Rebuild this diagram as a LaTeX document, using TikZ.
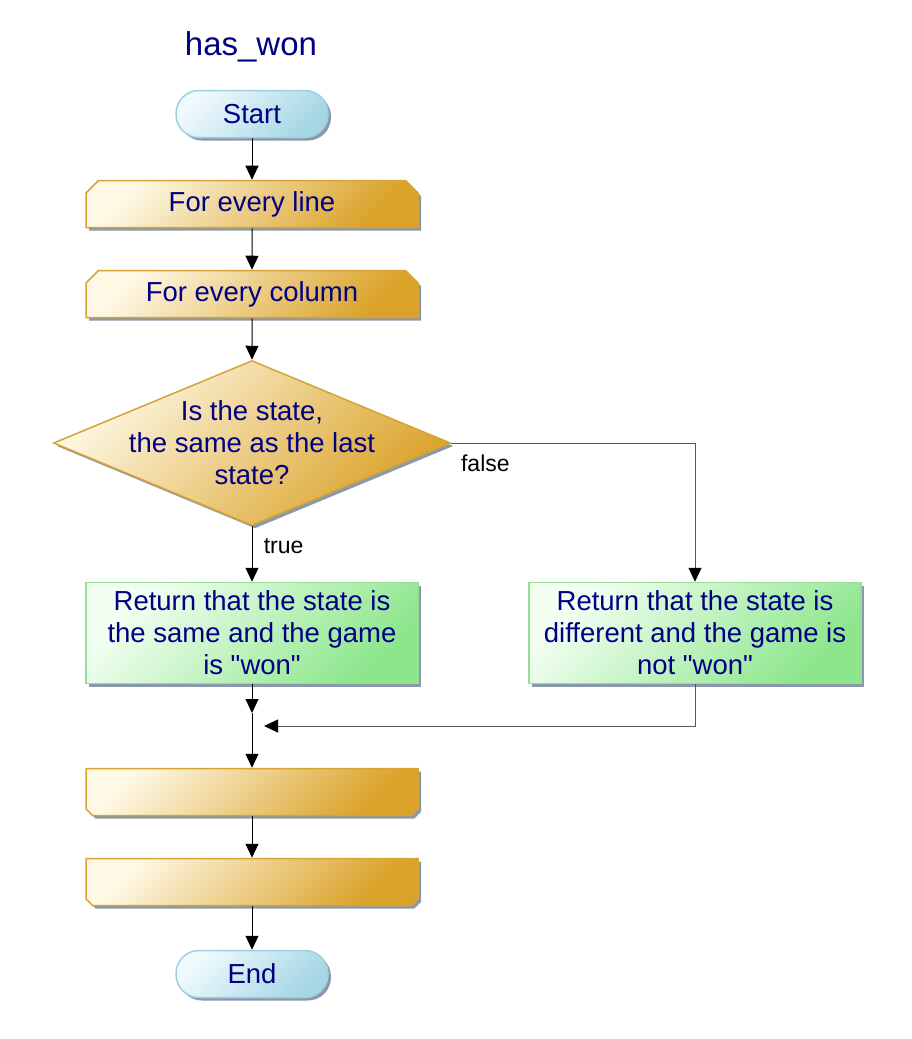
\documentclass[tikz,border=0pt]{standalone}
\usepackage{fontspec}
\setmainfont{Liberation Sans}[Ligatures=TeXOff]
\usetikzlibrary{shapes.geometric, shapes.misc, arrows.meta, shadows, positioning}

\definecolor{txtblue}{RGB}{0,0,128}
\definecolor{shadowgrey}{RGB}{138,152,172}
\definecolor{termlight}{RGB}{240,250,253}
\definecolor{termdark}{RGB}{164,214,228}
\definecolor{termedge}{RGB}{160,208,224}
\definecolor{looplight}{RGB}{254,248,228}
\definecolor{loopdark}{RGB}{218,162,40}
\definecolor{loopedge}{RGB}{214,164,52}
\definecolor{greenlight}{RGB}{244,255,244}
\definecolor{greendark}{RGB}{140,230,140}
\definecolor{greenedge}{RGB}{150,222,150}

\tikzset{
    boxtext/.style={text=txtblue, font=\fontsize{27.5}{32}\selectfont, align=center},
    flatshadow/.style={general shadow={fill=shadowgrey, shadow xshift=3pt, shadow yshift=-3pt}},
    terminal/.style={boxtext, flatshadow, rectangle, rounded corners=23pt,
        minimum width=152pt, minimum height=47pt, draw=termedge, line width=1.5pt,
        top color=termlight, bottom color=termdark, shading angle=45},
    loopstart/.style={boxtext, flatshadow, chamfered rectangle,
        chamfered rectangle corners={north west, north east}, chamfered rectangle xsep=9pt,
        minimum width=332pt, minimum height=47pt, draw=loopedge, line width=1.5pt,
        top color=looplight, bottom color=loopdark, shading angle=45},
    loopend/.style={loopstart, chamfered rectangle corners={south west, south east}},
    decision/.style={boxtext, flatshadow, diamond, aspect=2.4, inner xsep=-18pt, inner ysep=-7pt,
        minimum width=397pt, minimum height=165pt, draw=loopedge, line width=1.5pt,
        top color=looplight, bottom color=loopdark, shading angle=45},
    process/.style={boxtext, flatshadow, rectangle, minimum width=332pt, minimum height=101pt,
        draw=greenedge, line width=1.5pt, top color=greenlight, bottom color=greendark, shading angle=45},
    branch/.style={font=\fontsize{23}{27}\selectfont, text=black},
    flow/.style={-{Triangle[length=14pt, width=13pt, color=black]}, line width=1pt, draw=black},
    backflow/.style={flow, draw=black!65}
}

\begin{document}
\begin{tikzpicture}[x=1pt, y=-1pt]
    \useasboundingbox (0,0) rectangle (912,1039);

    % Title
    \node[text=txtblue, font=\fontsize{33}{38}\selectfont] (title) at (251,47) {has\_won};

    % Main column
    \node[terminal] (start) at (252,114) {Start};
    \node[loopstart] (lines) at (252,204) {For every line};
    \node[loopstart] (cols) at (252,294) {For every column};
    \node[decision] (test) at (252,443) {Is the state,\\the same as the last\\state?};

    % Both outcomes
    \node[process] (same) at (252,633) {Return that the state is\\the same and the game\\is "won"};
    \node[process] (diff) at (695,633) {Return that the state is\\different and the game is\\not "won"};

    % Where the branches meet
    \coordinate (jointip) at (252,713);
    \coordinate (joinin) at (264,726);

    % Loop ends
    \node[loopend] (endcols) at (252,792) {};
    \node[loopend] (endlines) at (252,882) {};
    \node[terminal] (stop) at (252,974) {End};

    % Straight connectors
    \foreach \a/\b in {start/lines, lines/cols, cols/test, endcols/endlines, endlines/stop} {
        \draw[flow] (\a) -- (\b);
    }

    \draw[flow] (test.south) -- (same.north) node[branch, pos=0.36, right=8pt] (truelbl) {true};
    \draw[backflow] (test.east) -| (diff.north) node[branch, pos=0, below right=8pt and 6pt] (falselbl) {false};

    \draw[flow] (same) -- (jointip);
    \draw[flow] (jointip) -- (endcols);
    \draw[backflow] (diff) |- (joinin);

\end{tikzpicture}
\end{document}
